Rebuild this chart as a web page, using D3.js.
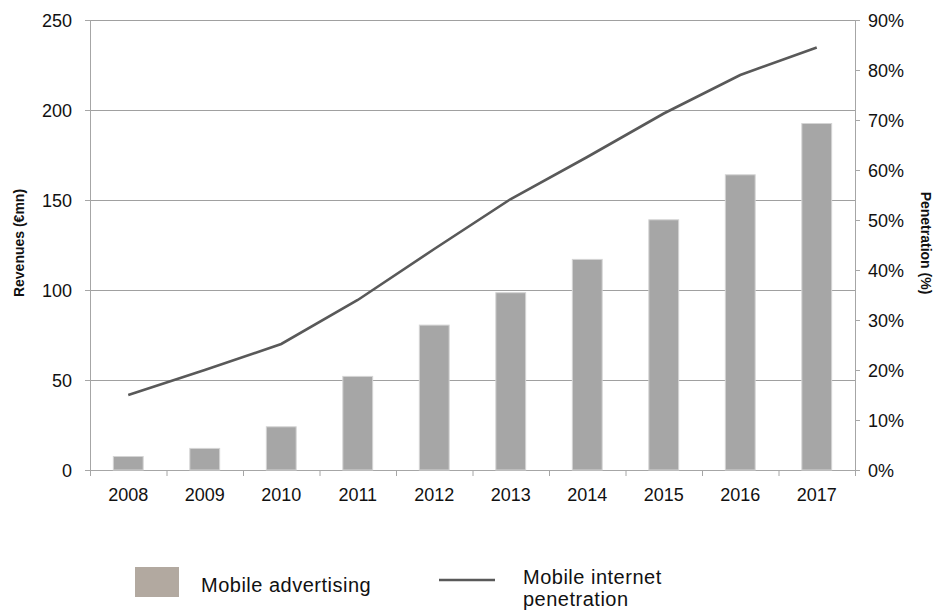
<!DOCTYPE html>
<html>
<head>
<meta charset="utf-8">
<script src="https://cdn.jsdelivr.net/npm/d3@7"></script>
<style>
  body { margin: 0; background: #fff; }
  text { font-family: "Liberation Sans", Arial, sans-serif; fill: #111; }
</style>
</head>
<body>
<div id="chart"></div>
<script>
// Mobile advertising revenues vs mobile internet penetration

var years = ["2008", "2009", "2010", "2011", "2012", "2013", "2014", "2015", "2016", "2017"];
var advertising = [7.5, 12, 24, 52, 80.5, 98.5, 117, 139, 164, 192.5];
var penetration = [15, 20, 25.2, 34, 44.2, 54.2, 62.6, 71.3, 79, 84.5];
var leftTicks = [0, 50, 100, 150, 200, 250];
var rightTicks = [0, 10, 20, 30, 40, 50, 60, 70, 80, 90];
var legendLabels = ["Mobile advertising", ["Mobile internet", "penetration"]];

var width = 935,
    height = 612,
    margin = { left: 90, right: 80, top: 20, bottom: 142 };

var svg = d3.select("#chart").append("svg")
  .attr("width", width)
  .attr("height", height);

var innerW = width - margin.left - margin.right,
    innerH = height - margin.top - margin.bottom;

var g = svg.append("g")
  .attr("transform", "translate(" + margin.left + "," + margin.top + ")");

var x = d3.scaleBand().domain(years).range([0, innerW]).padding(0);
var yL = d3.scaleLinear().domain([0, 250]).range([innerH, 0]);
var yR = d3.scaleLinear().domain([0, 90]).range([innerH, 0]);

var axisColor = "#a6a6a6";

// gridlines
g.selectAll(".grid").data(leftTicks.slice(1)).enter()
  .append("line")
  .attr("x1", 0).attr("x2", innerW)
  .attr("y1", function(d) { return yL(d) + 0.5; })
  .attr("y2", function(d) { return yL(d) + 0.5; })
  .attr("stroke", "#a0a0a0")
  .attr("stroke-width", 1);

// left axis
var left = g.append("g")
  .call(d3.axisLeft(yL).tickValues(leftTicks).tickSize(5).tickPadding(13));
left.selectAll("text").style("font-size", "18px").attr("dy", "0.36em");

// right axis
var right = g.append("g")
  .attr("transform", "translate(" + innerW + ",0)")
  .call(d3.axisRight(yR).tickValues(rightTicks).tickSize(5).tickPadding(8)
    .tickFormat(function(d) { return d + "%"; }));
right.selectAll("text").style("font-size", "18px").attr("dy", "0.36em");

// bottom axis, ticks on category boundaries
var bottom = g.append("g")
  .attr("transform", "translate(0," + innerH + ")")
  .call(d3.axisBottom(x).tickSize(0).tickPadding(18));
bottom.selectAll("text").style("font-size", "18px");
bottom.selectAll(".bound").data(years.concat(["end"])).enter()
  .append("line")
  .attr("class", "bound")
  .attr("x1", function(d, i) { return i * x.step() + 0.5; })
  .attr("x2", function(d, i) { return i * x.step() + 0.5; })
  .attr("y1", 0).attr("y2", 6)
  .attr("stroke", axisColor);

[left, right, bottom].forEach(function(a) {
  a.select(".domain").attr("stroke", axisColor);
  a.selectAll(".tick line").attr("stroke", axisColor);
  a.selectAll("text").style("fill", "#111");
});

// bars
var barW = x.bandwidth() * 0.39;
g.selectAll(".bar").data(advertising).enter()
  .append("rect")
  .attr("class", "bar")
  .attr("x", function(d, i) { return x(years[i]) + (x.bandwidth() - barW) / 2; })
  .attr("y", function(d) { return yL(d); })
  .attr("width", barW)
  .attr("height", function(d) { return innerH - yL(d); })
  .attr("fill", "#a6a6a6")
  .attr("stroke", "#d4d4d4")
  .attr("stroke-width", 1);

// penetration line
var line = d3.line()
  .x(function(d, i) { return x(years[i]) + x.bandwidth() / 2; })
  .y(function(d) { return yR(d); });

g.append("path")
  .datum(penetration)
  .attr("d", line)
  .attr("fill", "none")
  .attr("stroke", "#595959")
  .attr("stroke-width", 2.6);

// axis titles
svg.append("text")
  .attr("transform", "translate(24,243) rotate(-90)")
  .attr("text-anchor", "middle")
  .style("font-size", "14px")
  .style("font-weight", "bold")
  .text("Revenues (€mn)");

svg.append("text")
  .attr("transform", "translate(921,243) rotate(90)")
  .attr("text-anchor", "middle")
  .style("font-size", "14px")
  .style("font-weight", "bold")
  .text("Penetration (%)");

// legend
var legend = svg.append("g");
legend.append("rect")
  .attr("x", 135).attr("y", 567)
  .attr("width", 44).attr("height", 30)
  .attr("fill", "#b2a9a0");
legend.append("text")
  .attr("x", 201).attr("y", 592)
  .style("font-size", "20px")
  .style("letter-spacing", "0.5px")
  .text(legendLabels[0]);

legend.append("line")
  .attr("x1", 439).attr("x2", 495)
  .attr("y1", 580).attr("y2", 580)
  .attr("stroke", "#595959")
  .attr("stroke-width", 2.6);
legend.selectAll(".lbl").data(legendLabels[1]).enter()
  .append("text")
  .attr("x", 523)
  .attr("y", function(d, i) { return 584 + i * 22; })
  .style("font-size", "20px")
  .style("letter-spacing", "0.5px")
  .text(function(d) { return d; });
</script>
</body>
</html>
